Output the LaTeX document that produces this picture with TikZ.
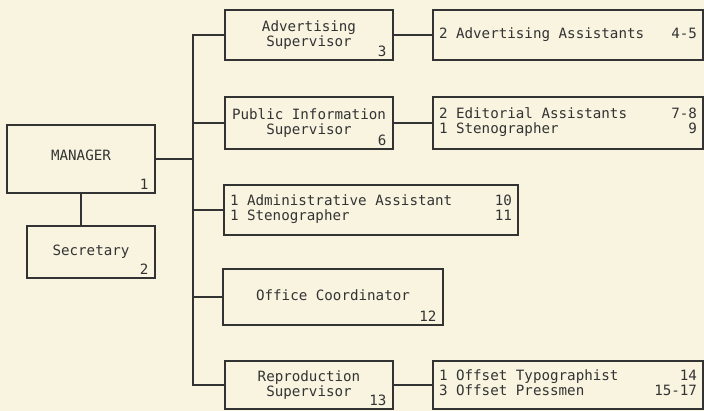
\documentclass[tikz,border=0pt]{standalone}
\usepackage{fontspec}
\newfontfamily\orgfont{DejaVu Sans Mono}
\usetikzlibrary{calc}
\definecolor{paperCream}{HTML}{F8F4E0}
\definecolor{inkGray}{HTML}{333333}
\newcommand{\stafflist}[2]{\begin{tabular*}{#1}{@{}l@{\extracolsep{\fill}}r@{}}#2\end{tabular*}}

\begin{document}
\begin{tikzpicture}[x=1pt, y=-1pt,
    box/.style={draw=inkGray, line width=1.4pt, inner sep=0pt, align=center,
                font=\orgfont\fontsize{14.2}{15.5}\selectfont, text=inkGray},
    num/.style={anchor=south east, inner xsep=7pt, inner ysep=4pt,
                font=\orgfont\fontsize{14.2}{15.5}\selectfont, text=inkGray},
    link/.style={draw=inkGray, line width=1.4pt},
]
    \fill[paperCream] (0,0) rectangle (704,411);
    \useasboundingbox (0,0) rectangle (704,411);

    % left side
    \node[box, minimum width=148pt, minimum height=68pt] (mgr) at (81,159) {\raisebox{7pt}{MANAGER}};
    \node[box, minimum width=128pt, minimum height=52pt] (sec) at (91,252) {Secretary};
    \node[num] (mgrnum) at (mgr.south east) {1};
    \node[num] (secnum) at (sec.south east) {2};

    % supervisors and staff
    \node[box, minimum width=168pt, minimum height=50pt] (adv) at (309,35) {Advertising\\Supervisor};
    \node[box, minimum width=168pt, minimum height=52pt] (pub) at (309,123) {Public Information\\Supervisor};
    \node[box, minimum width=294pt, minimum height=50pt] (admin) at (371,210)
        {\stafflist{282pt}{1 Administrative Assistant & 10\\ 1 Stenographer & 11}};
    \node[box, minimum width=220pt, minimum height=56pt] (office) at (333,297) {\raisebox{3pt}{Office Coordinator}};
    \node[box, minimum width=168pt, minimum height=48pt] (repro) at (309,385) {Reproduction\\Supervisor};
    \node[num] (advnum) at (adv.south east) {3};
    \node[num] (pubnum) at (pub.south east) {6};
    \node[num] (officenum) at (office.south east) {12};
    \node[num] (repronum) at (repro.south east) {13};

    \node[box, minimum width=270pt, minimum height=50pt] (advstaff) at (568,35)
        {\stafflist{258pt}{2 Advertising Assistants & 4-5}};
    \node[box, minimum width=270pt, minimum height=52pt] (pubstaff) at (568,123)
        {\stafflist{258pt}{2 Editorial Assistants & 7-8\\ 1 Stenographer & 9}};
    \node[box, minimum width=270pt, minimum height=48pt] (reprostaff) at (568,385)
        {\stafflist{258pt}{1 Offset Typographist & 14\\ 3 Offset Pressmen & 15-17}};

    % connectors
    \coordinate (bus) at (193,0);
    \draw[link] (adv.west) -| (bus |- repro.west) -- (repro.west);
    \foreach \n in {pub,admin,office}
        \draw[link] (\n.west) -- (\n.west -| bus);
    \draw[link] (mgr.east) -- (mgr.east -| bus);
    \draw[link] (mgr.south) -- (mgr.south |- sec.north);
    \draw[link] (adv.east) -- (advstaff.west);
    \draw[link] (pub.east) -- (pubstaff.west);
    \draw[link] (repro.east) -- (reprostaff.west);
\end{tikzpicture}
\end{document}
